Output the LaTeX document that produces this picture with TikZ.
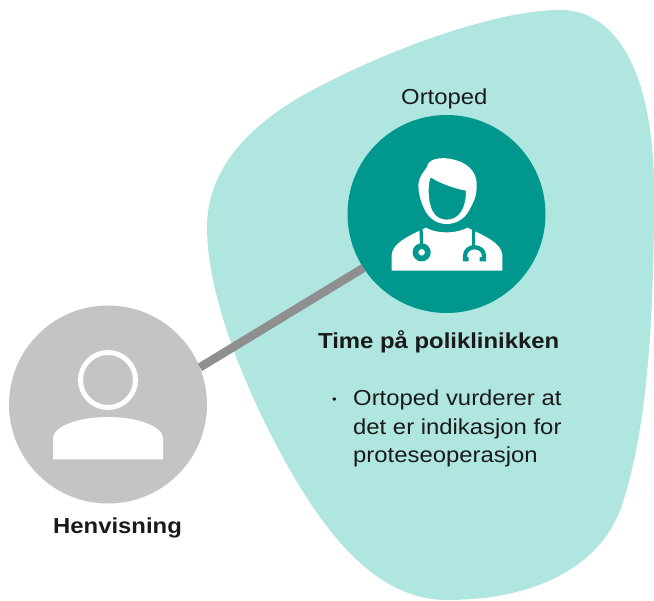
\documentclass[tikz,border=0pt]{standalone}
\usepackage{fontspec}
\setmainfont{Liberation Sans}[FakeStretch=1.1]
\definecolor{blob}{HTML}{B0E6E0}
\definecolor{teal}{HTML}{00978F}
\definecolor{greyc}{HTML}{C4C4C4}
\definecolor{linkc}{HTML}{8F8F8F}
\definecolor{ink}{HTML}{1A1A1A}
\tikzset{
  lab/.style={inner sep=0pt,text=ink,anchor=base west,font=\fontsize{21.7}{24}\selectfont},
  boldlab/.style={lab,font=\fontsize{21.7}{24}\selectfont\bfseries},
  disc/.style={circle,minimum size=198pt,inner sep=0pt},
  icon/.style={fill=white,draw=none}
}
\begin{document}
\begin{tikzpicture}[x=1pt,y=-1pt]
\useasboundingbox (0,0) rectangle (654,601);
\fill[blob] (207,227) .. controls (207,180) and (235,135) .. (300,97)
  .. controls (370,57) and (490,10) .. (560,10)
  .. controls (625,10) and (654,90) .. (654,190)
  .. controls (654,300) and (650,420) .. (622,505)
  .. controls (600,570) and (530,600) .. (447,600)
  .. controls (380,600) and (330,540) .. (290,470)
  .. controls (250,400) and (207,300) .. (207,227) -- cycle;
\node[disc,fill=greyc] (ref) at (108,404.5) {};
\node[disc,fill=teal] (ort) at (446.5,214) {};
\draw[linkc,line width=8.5pt] (ref.22) -- (ort.213.5);
% grey person
\draw[white,line width=5pt] (108,380) circle (27.5);
\fill[icon] (53,459.5) -- (53,438) .. controls (53,428) and (75,417) .. (108,417)
  .. controls (141,417) and (163,428) .. (163,438) -- (163,459.5) -- cycle;
% doctor
\begin{scope}[shift={(340,130)},scale=1/3]
\fill[icon,even odd rule] (235,165) .. controls (238,130) and (258,125) .. (265,100)
  .. controls (285,75) and (340,85) .. (365,97)
  .. controls (395,112) and (412,135) .. (410,170)
  .. controls (410,205) and (395,225) .. (388,240)
  .. controls (375,265) and (350,282) .. (320,282)
  .. controls (290,282) and (265,265) .. (252,235)
  .. controls (240,210) and (235,185) .. (235,165) -- cycle
  (272,142) .. controls (300,160) and (340,175) .. (378,182)
  .. controls (378,235) and (358,269) .. (320,269)
  .. controls (282,269) and (266,235) .. (266,180)
  .. controls (266,165) and (268,150) .. (272,142) -- cycle;
\fill[icon] (155,422) -- (155,375) .. controls (157,340) and (205,318) .. (258,293)
  .. controls (290,312) and (350,312) .. (382,293)
  .. controls (435,318) and (485,340) .. (487,375) -- (487,422) -- cycle;
\draw[teal,line width=3.3pt] (243,296) -- (245,350);
\draw[teal,line width=5.7pt,fill=white] (245,367) circle (18.5);
\draw[teal,line width=3.3pt] (400,296) -- (400,355);
\draw[teal,line width=4.2pt] (386,388) -- (375,388) -- (375,378) .. controls (375,343) and (432,343) .. (432,378) -- (432,388) -- (419,388);
\end{scope}
% texts
\node[lab] (t1) at (401,105) {Ortoped};
\node[boldlab] (t2) at (318,349) {Time på poliklinikken};
\node[lab,font=\fontsize{12}{14}\selectfont] (b) at (332,404) {•};
\node[lab] (l1) at (353,406) {Ortoped vurderer at};
\node[lab] (l2) at (353,435) {det er indikasjon for};
\node[lab] (l3) at (353,463) {proteseoperasjon};
\node[boldlab] (t3) at (53,534) {Henvisning};
\end{tikzpicture}
\end{document}
